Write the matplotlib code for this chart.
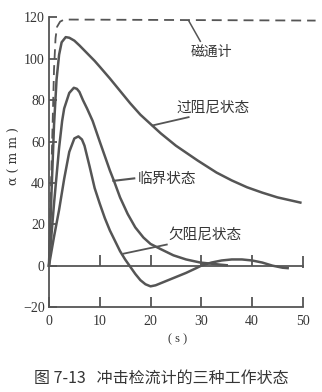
import matplotlib
matplotlib.use('Agg')
import matplotlib.pyplot as plt

plt.rcParams['font.family'] = ['Noto Sans CJK SC', 'DejaVu Sans']

# deflection a (mm) against time t (s) for the three damping states
t_over = [0, 0.5, 1, 1.5, 2, 2.5, 3.3, 4, 5, 6, 7, 8, 9, 10, 12, 14, 16, 18,
          20, 22, 25, 29.3, 33, 36, 39, 42, 45, 49.5]
a_over = [0, 35, 68, 90, 102, 108, 110.5, 110.2, 108.8, 106.5, 104, 101.5,
          99, 96.2, 90.5, 84.5, 78.5, 73, 68.5, 64, 58, 50.8, 45, 41.2, 37.9,
          35.3, 33, 30.5]

t_crit = [0, 1, 2, 2.6, 3, 4, 4.9, 5.5, 6, 6.7, 7.5, 8.6, 10, 11, 12, 12.8,
          14, 15.5, 17, 18.6, 20, 22, 24.5, 27, 29.8, 33.7, 35]
a_crit = [0, 30, 57, 70, 76, 83.5, 86, 85.5, 84, 80, 76, 70, 60, 53, 46, 41,
          33, 25, 18.5, 13.6, 10.5, 8, 5, 3, 1.5, 0.5, 0.2]

t_under = [0, 1, 2, 3, 4, 5, 5.8, 6.5, 7, 8, 9, 10, 11, 12, 13, 14, 15, 16,
           17, 18, 19, 20, 21, 23, 25, 27, 29, 30, 32, 34, 36, 38, 40, 42,
           44, 46, 47]
a_under = [0, 14, 27, 42, 55, 61.5, 62.5, 61, 58, 48, 37.5, 30, 23, 17, 12,
           7, 3, -0.5, -4, -7, -9, -10, -9.5, -7.5, -5.5, -3.5, -1.2, 0, 1.5,
           2.5, 3, 3, 2.5, 1.5, 0, -1, -1.2]

# fluxmeter reading for comparison
t_flux = [0, 1.0, 1.3, 1.6, 2.2, 3.0, 52.5]
a_flux = [0, 95, 110, 115.5, 118, 119, 118.5]

xticks = [0, 10, 20, 30, 40, 50]
yticks = [-20, 0, 20, 40, 60, 80, 100, 120]
ytick_labels = ['\u221220', '0', '20', '40', '60', '80', '100', '120']

line_c = '#555555'
text_c = '#353535'

fig = plt.figure(figsize=(3.22, 3.92), dpi=100)
ax = fig.add_axes([0.152, 0.2168, 0.836, 0.765])

for t, a in ((t_over, a_over), (t_crit, a_crit), (t_under, a_under)):
    ax.plot(t, a, color=line_c, lw=1.8, clip_on=False,
            solid_joinstyle='round')
ax.plot(t_flux, a_flux, color=line_c, lw=1.3, dashes=[5.5, 3.3],
        clip_on=False)

# zero line with its own upward ticks
ax.plot([xticks[0], xticks[-1]], [0, 0], color=line_c, lw=1.3)
ax.vlines(xticks[1:-1], 0, 5, color=line_c, lw=1.3)
ax.vlines(xticks[-1], -1, 4.5, color=line_c, lw=1.3)

ax.set_xlim(0, 53)
ax.set_ylim(-20, 125)
for side in ('top', 'right'):
    ax.spines[side].set_visible(False)
for side in ('left', 'bottom'):
    ax.spines[side].set_color(line_c)
    ax.spines[side].set_linewidth(1.3)
ax.spines['bottom'].set_bounds(xticks[0], xticks[-1])
ax.spines['left'].set_bounds(yticks[0], yticks[-1])

ax.set_xticks(xticks)
ax.set_yticks(yticks)
ax.set_yticklabels(ytick_labels)
ax.tick_params(axis='x', direction='in', length=7, width=1.3, color=line_c,
               pad=6, labelsize=10, labelcolor=text_c)
ax.tick_params(axis='y', direction='in', length=6, width=1.3, color=line_c,
               pad=3, labelsize=10, labelcolor=text_c)
for lab in ax.get_xticklabels() + ax.get_yticklabels():
    lab.set_family('Liberation Serif')

# curve labels with leader lines
ax.plot([27.5, 29.8], [118.5, 108.5], color=line_c, lw=1.1)
ax.text(32, 103.5, '磁通计', ha='center', va='center', fontsize=10,
        color=text_c)
ax.plot([20.4, 27.5], [67.8, 71.8], color=line_c, lw=1.3)
ax.text(32.4, 76.4, '过阻尼状态', ha='center', va='center', fontsize=10.5,
        color=text_c)
ax.plot([12.7, 16.8], [41, 42.2], color=line_c, lw=1.5)
ax.text(23.3, 42, '临界状态', ha='center', va='center', fontsize=10.5,
        color=text_c)
ax.plot([14.7, 23.2], [5.8, 10.2], color=line_c, lw=1.3)
ax.text(30.8, 14.5, '欠阻尼状态', ha='center', va='center', fontsize=10.5,
        color=text_c)

ax.text(25.3, -35.5, '( s )', ha='center', va='center', fontsize=9,
        color=text_c, family='Liberation Serif')
ax.text(-6.8, 53, 'α ( m m )', ha='center', va='center', rotation=90,
        fontsize=9, color=text_c, family='DejaVu Serif')

fig.text(161.5 / 322, 1 - 378 / 392, '图 7-13   冲击检流计的三种工作状态',
         ha='center', va='center', fontsize=11.5, color=text_c)

fig.savefig('out.png', dpi=100)
